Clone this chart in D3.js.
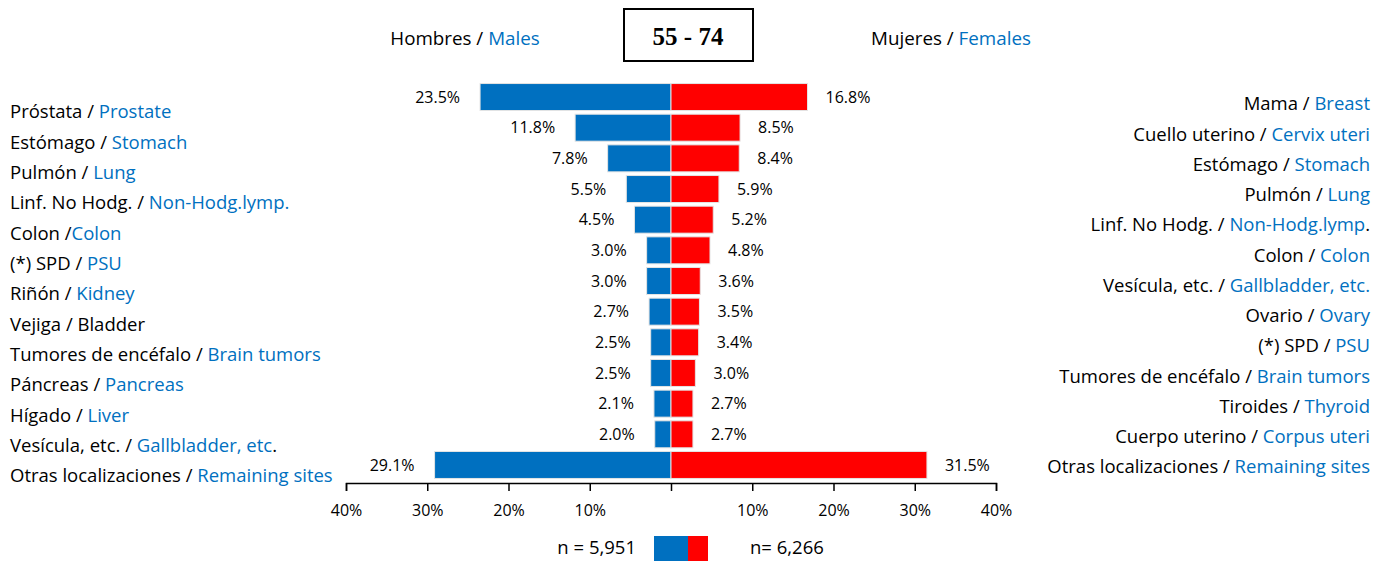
<!DOCTYPE html>
<html>
<head>
<meta charset="utf-8">
<script src="https://cdn.jsdelivr.net/npm/d3@7"></script>
<style>
  body { margin: 0; background: #fff; }
  svg { font-family: "Open Sans", sans-serif; }
</style>
</head>
<body>
<svg id="chart"></svg>
<script>
const width = 1387;
const height = 563;
const blue = '#0070C0';
const red = '#FF0000';

// label parts: [spanish (black), english (blue), tail (black)]
const maleSites = [
  ['Próstata / ', 'Prostate', ''],
  ['Estómago / ', 'Stomach', ''],
  ['Pulmón / ', 'Lung', ''],
  ['Linf. No Hodg. / ', 'Non-Hodg.lymp.', ''],
  ['Colon /', 'Colon', ''],
  ['(*) SPD / ', 'PSU', ''],
  ['Riñón / ', 'Kidney', ''],
  ['Vejiga / Bladder', '', ''],
  ['Tumores de encéfalo / ', 'Brain tumors', ''],
  ['Páncreas / ', 'Pancreas', ''],
  ['Hígado / ', 'Liver', ''],
  ['Vesícula, etc. / ', 'Gallbladder, etc', '.'],
  ['Otras localizaciones / ', 'Remaining sites', '']
];
const femaleSites = [
  ['Mama / ', 'Breast', ''],
  ['Cuello uterino / ', 'Cervix uteri', ''],
  ['Estómago / ', 'Stomach', ''],
  ['Pulmón / ', 'Lung', ''],
  ['Linf. No Hodg. / ', 'Non-Hodg.lymp', '.'],
  ['Colon / ', 'Colon', ''],
  ['Vesícula, etc. / ', 'Gallbladder, etc.', ''],
  ['Ovario / ', 'Ovary', ''],
  ['(*) SPD / ', 'PSU', ''],
  ['Tumores de encéfalo / ', 'Brain tumors', ''],
  ['Tiroides / ', 'Thyroid', ''],
  ['Cuerpo uterino / ', 'Corpus uteri', ''],
  ['Otras localizaciones / ', 'Remaining sites', '']
];
const maleValues = [23.5, 11.8, 7.8, 5.5, 4.5, 3.0, 3.0, 2.7, 2.5, 2.5, 2.1, 2.0, 29.1];
const femaleValues = [16.8, 8.5, 8.4, 5.9, 5.2, 4.8, 3.6, 3.5, 3.4, 3.0, 2.7, 2.7, 31.5];
const tickValues = [-40, -30, -20, -10, 0, 10, 20, 30, 40];
const ageGroup = '55 - 74';
const maleN = 'n = 5,951';
const femaleN = 'n= 6,266';

const svg = d3.select('#chart').attr('width', width).attr('height', height);

const x = d3.scaleLinear().domain([-40, 40]).range([346, 996]);
const rows = d3.range(maleValues.length);
const y = d3.scaleBand().domain(rows).range([81.7, 480.3]).paddingInner(0.12).paddingOuter(0.06);
const yLeft = d3.scalePoint().domain(rows).range([112, 476]);
const yRight = d3.scalePoint().domain(rows).range([104, 467]);

// bars
svg.selectAll('.male').data(maleValues).enter().append('rect').attr('class', 'male')
  .attr('x', d => x(-d)).attr('width', d => x(0) - x(-d))
  .attr('y', (d, i) => y(i)).attr('height', y.bandwidth())
  .attr('fill', blue).attr('stroke', '#e4e4e4').attr('stroke-width', 1);
svg.selectAll('.female').data(femaleValues).enter().append('rect').attr('class', 'female')
  .attr('x', x(0)).attr('width', d => x(d) - x(0))
  .attr('y', (d, i) => y(i)).attr('height', y.bandwidth())
  .attr('fill', red).attr('stroke', '#e4e4e4').attr('stroke-width', 1);

// value labels
svg.selectAll('.mval').data(maleValues).enter().append('text')
  .attr('x', d => x(-d) - 20).attr('y', (d, i) => y(i) + y.bandwidth() / 2)
  .attr('dy', '0.35em').attr('text-anchor', 'end').attr('font-size', 16).attr('fill', '#000')
  .text(d => d.toFixed(1) + '%');
svg.selectAll('.fval').data(femaleValues).enter().append('text')
  .attr('x', d => x(d) + 18).attr('y', (d, i) => y(i) + y.bandwidth() / 2)
  .attr('dy', '0.35em').attr('text-anchor', 'start').attr('font-size', 16).attr('fill', '#000')
  .text(d => d.toFixed(1) + '%');

// site labels
function siteLabel(t, d) {
  t.append('tspan').attr('fill', '#000').text(d[0]);
  if (d[1]) t.append('tspan').attr('fill', blue).text(d[1]);
  if (d[2]) t.append('tspan').attr('fill', '#000').text(d[2]);
}
svg.selectAll('.mlab').data(maleSites).enter().append('text')
  .attr('x', 10).attr('y', (d, i) => yLeft(i)).attr('dy', '0.35em')
  .attr('font-size', 18.5).each(function (d) { siteLabel(d3.select(this), d); });
svg.selectAll('.flab').data(femaleSites).enter().append('text')
  .attr('x', 1370).attr('y', (d, i) => yRight(i)).attr('dy', '0.35em')
  .attr('text-anchor', 'end').attr('font-size', 18.5).each(function (d) { siteLabel(d3.select(this), d); });

// axis
const axis = svg.append('g').attr('transform', 'translate(0,483)')
  .call(d3.axisBottom(x).tickValues(tickValues).tickSize(8).tickPadding(14)
    .tickFormat(d => d === 0 ? '' : Math.abs(d) + '%'));
axis.select('.domain').attr('stroke', '#000').attr('stroke-width', 1.5);
axis.selectAll('.tick line').attr('stroke', '#000').attr('stroke-width', 1.5);
axis.selectAll('.tick text').attr('font-size', 16).attr('font-family', '"Open Sans", sans-serif').attr('fill', '#000');

// header
const header = svg.append('g');
const hm = header.append('text').attr('x', 465).attr('y', 38).attr('dy', '0.35em')
  .attr('text-anchor', 'middle').attr('font-size', 18.8);
siteLabel(hm, ['Hombres / ', 'Males', '']);
const hf = header.append('text').attr('x', 951).attr('y', 38).attr('dy', '0.35em')
  .attr('text-anchor', 'middle').attr('font-size', 18.8);
siteLabel(hf, ['Mujeres / ', 'Females', '']);
header.append('rect').attr('x', 624).attr('y', 9).attr('width', 129).attr('height', 52)
  .attr('fill', 'none').attr('stroke', '#000').attr('stroke-width', 2);
header.append('text').attr('x', 688).attr('y', 36).attr('dy', '0.35em')
  .attr('text-anchor', 'middle').attr('font-family', '"Liberation Serif", serif')
  .attr('font-weight', 'bold').attr('font-size', 25).text(ageGroup);

// legend
const legend = svg.append('g');
legend.append('text').attr('x', 636).attr('y', 548).attr('dy', '0.35em')
  .attr('text-anchor', 'end').attr('font-size', 18.5).text(maleN);
legend.append('rect').attr('x', 654).attr('y', 536).attr('width', 34).attr('height', 25).attr('fill', blue);
legend.append('rect').attr('x', 688).attr('y', 536).attr('width', 20).attr('height', 25).attr('fill', red);
legend.append('text').attr('x', 750).attr('y', 548).attr('dy', '0.35em')
  .attr('text-anchor', 'start').attr('font-size', 18.5).text(femaleN);
</script>
</body>
</html>
